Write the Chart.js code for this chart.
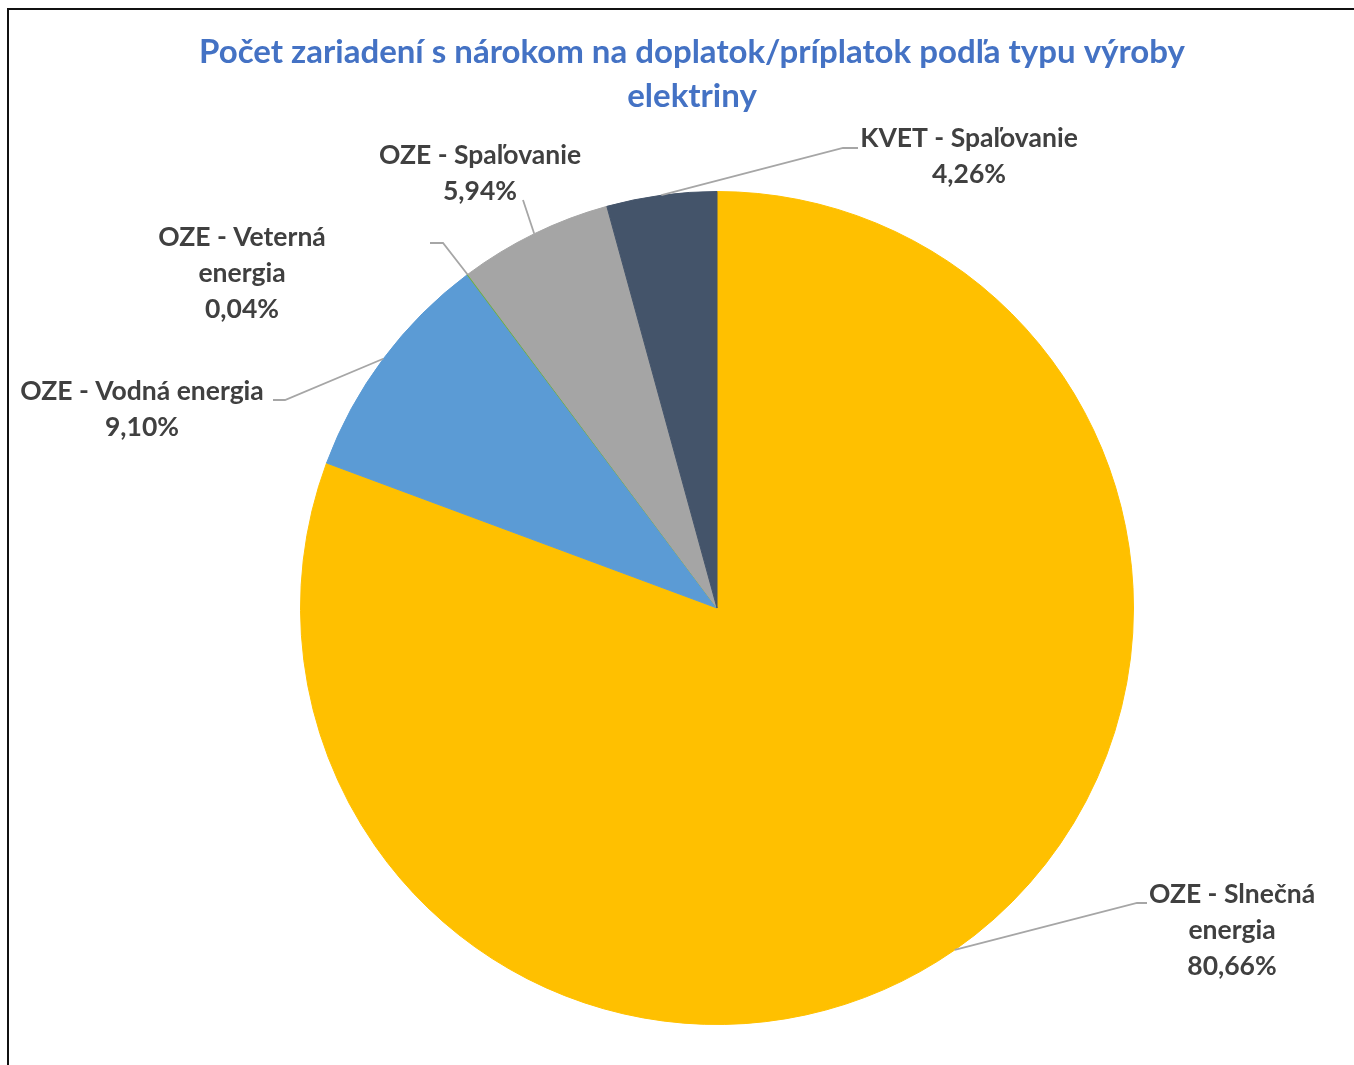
<!DOCTYPE html>
<html>
<head>
<meta charset="utf-8">
<script src="https://cdn.jsdelivr.net/npm/chart.js@4/dist/chart.umd.min.js"></script>
<style>
  html, body { margin: 0; padding: 0; background: #ffffff; overflow: hidden; }
  #wrap { position: absolute; left: 0; top: 0; width: 1354px; height: 1065px; }
  #frame { position: absolute; left: 7px; top: 8px; width: 1347px; height: 1057px;
           border-left: 2px solid #111; border-top: 2px solid #111; box-sizing: border-box; pointer-events: none; }
</style>
</head>
<body>
<div id="wrap">
  <canvas id="c" width="1354" height="1065"></canvas>
  <div id="frame"></div>
</div>
<script>
// ---- data ----
const titleLines = ['Počet zariadení s nárokom na doplatok/príplatok podľa typu výroby', 'elektriny'];
const categories = ['OZE - Slnečná energia', 'OZE - Vodná energia', 'OZE - Veterná energia', 'OZE - Spaľovanie', 'KVET - Spaľovanie'];
const shares = [80.66, 9.10, 0.04, 5.94, 4.26];
const colors = ['#FFC000', '#5B9BD5', '#70AD47', '#A5A5A5', '#44546A'];

// ---- label layout (offsets from pie centre, px) ----
const labelLayout = [
  { tx: 515, ty: 286, wrap: 200, pts: [[420, 295], [430, 295]] },
  { tx: -575, ty: -217, wrap: 340, pts: [[-432, -208], [-444, -208]] },
  { tx: -475, ty: -371, wrap: 200, pts: [[-274, -365], [-287, -365]] },
  { tx: -237, ty: -453, wrap: 340, pts: [[-194, -408]] },
  { tx: 252, ty: -470, wrap: 340, pts: [[126, -460], [141, -460]] }
];

const LABEL_FONT = 'bold 26.5px Lato, "Open Sans", sans-serif';
const LINE_H = 36;

function wrapText(ctx, text, maxW) {
  const words = text.split(' ');
  const lines = [];
  let cur = '';
  for (const w of words) {
    const test = cur ? cur + ' ' + w : w;
    if (cur && ctx.measureText(test).width > maxW) { lines.push(cur); cur = w; }
    else cur = test;
  }
  if (cur) lines.push(cur);
  return lines;
}

const overlay = {
  id: 'overlay',
  afterDraw(chart) {
    const ctx = chart.ctx;
    // title
    ctx.save();
    ctx.fillStyle = '#4472C4';
    ctx.font = 'bold 33px Lato, "Open Sans", sans-serif';
    ctx.textAlign = 'center';
    ctx.textBaseline = 'middle';
    titleLines.forEach((t, i) => ctx.fillText(t, 692, 52 + i * 44));
    ctx.restore();

    const meta = chart.getDatasetMeta(0);
    meta.data.forEach((arc, i) => {
      const p = arc.getProps(['x', 'y', 'startAngle', 'endAngle', 'outerRadius'], true);
      const mid = (p.startAngle + p.endAngle) / 2;
      const sx = p.x + Math.cos(mid) * p.outerRadius;
      const sy = p.y + Math.sin(mid) * p.outerRadius;
      const L = labelLayout[i];
      // leader line
      ctx.save();
      ctx.strokeStyle = '#A6A6A6';
      ctx.lineWidth = 1.8;
      ctx.beginPath();
      ctx.moveTo(sx, sy);
      L.pts.forEach(q => ctx.lineTo(p.x + q[0], p.y + q[1]));
      ctx.stroke();
      ctx.restore();
      // label text
      ctx.save();
      ctx.font = LABEL_FONT;
      ctx.fillStyle = '#404040';
      ctx.textAlign = 'center';
      ctx.textBaseline = 'middle';
      const lines = wrapText(ctx, categories[i], L.wrap);
      lines.push(shares[i].toFixed(2).replace('.', ',') + '%');
      lines.forEach((t, k) => ctx.fillText(t, p.x + L.tx, p.y + L.ty + k * LINE_H));
      ctx.restore();
    });
  }
};

new Chart(document.getElementById('c'), {
  type: 'pie',
  data: {
    labels: categories,
    datasets: [{
      data: shares,
      backgroundColor: colors,
      borderColor: colors,
      borderWidth: 1
    }]
  },
  options: {
    responsive: false,
    animation: false,
    layout: { padding: { left: 300, right: 220, top: 191, bottom: 40 } },
    plugins: {
      legend: { display: false },
      title: { display: false },
      tooltip: { enabled: false }
    }
  },
  plugins: [overlay]
});
</script>
</body>
</html>
